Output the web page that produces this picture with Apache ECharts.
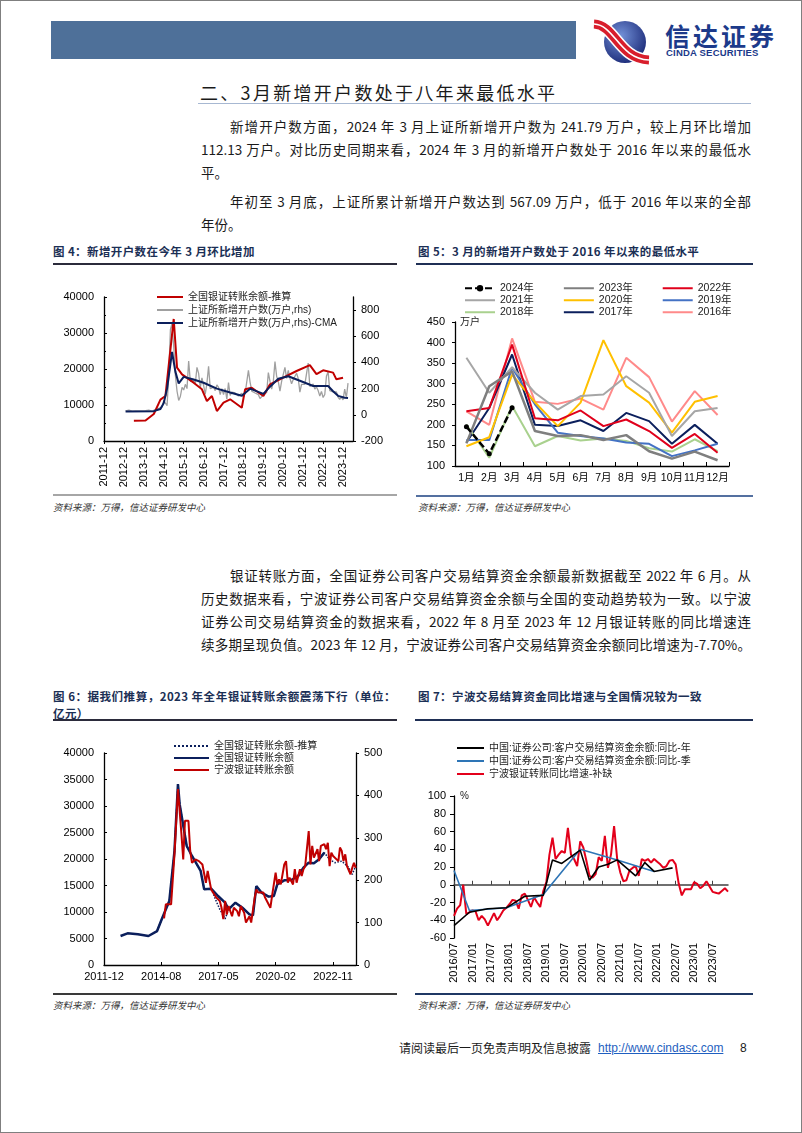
<!DOCTYPE html>
<html lang="zh-CN">
<head>
<meta charset="utf-8">
<title>信达证券 图4-图7</title>
<script src="https://cdn.jsdelivr.net/npm/echarts@6.0.0/dist/echarts.min.js"></script>
<style>
  html, body { margin: 0; padding: 0; background: #fff; }
  #page { position: relative; width: 802px; height: 1133px; box-sizing: border-box; border: 1px solid #7f7f7f;
          overflow: hidden; font-family: "Noto Sans CJK SC", sans-serif; color: #1a1a1a; }
  .a { position: absolute; white-space: nowrap; }
  .ln { position: absolute; left: 200px; width: 550px; height: 20px; line-height: 20px; font-size: 13.5px; }
  .ln.j { text-align: justify; text-align-last: justify; }
  .ln.ind { left: 229px; width: 521px; }
  .cap { position: absolute; font-size: 11.5px; font-weight: bold; color: #1b2f55; line-height: 16px; letter-spacing: .4px; white-space: nowrap; }
  .rule { position: absolute; height: 0; }
  .src { position: absolute; font-size: 9.5px; font-style: italic; color: #333; white-space: nowrap; }
  .chart { position: absolute; }
</style>
</head>
<body>
<div id="page">
  <!-- 页眉 -->
  <div class="a" style="left:50px;top:20px;width:525px;height:38px;background:#4e7099;"></div>
  <svg class="a" style="left:588px;top:16px" width="70" height="48" viewBox="0 0 70 48">
    <defs>
      <radialGradient id="lg" cx="40%" cy="35%" r="70%">
        <stop offset="0" stop-color="#7391d8"/><stop offset="1" stop-color="#1b2a78"/>
      </radialGradient>
    </defs>
    <circle cx="36" cy="25" r="21" fill="url(#lg)"/>
    <path d="M5 7 C 26 8, 30 42, 60 43" stroke="#fff" stroke-width="12" fill="none"/>
    <path d="M5 7 C 26 8, 30 42, 60 43" stroke="#d81e2c" stroke-width="9" fill="none"/>
    <path d="M5 7 C 26 8, 30 42, 60 43" stroke="#fff" stroke-width="1.6" fill="none"/>
  </svg>
  <div class="a" style="left:664px;top:19px;font-size:25px;font-weight:bold;color:#1c3a8a;letter-spacing:3px;line-height:30px;">信达证券</div>
  <div class="a" style="left:665px;top:46px;font-size:9.5px;font-weight:bold;color:#1c3a8a;font-family:'Liberation Sans',sans-serif;letter-spacing:.2px;line-height:11px;">CINDA SECURITIES</div>

  <!-- 标题与正文 -->
  <div class="a" style="left:199px;top:79px;font-size:18px;letter-spacing:2.3px;line-height:24px;">二、3月新增开户数处于八年来最低水平</div>
  <div class="rule" style="left:197px;top:102px;width:553px;border-top:1.5px solid #a7b8d2;"></div>

  <div class="ln j ind" style="top:115px;">新增开户数方面，2024 年 3 月上证所新增开户数为 241.79 万户，较上月环比增加</div>
  <div class="ln j" style="top:138px;">112.13 万户。对比历史同期来看，2024 年 3 月的新增开户数处于 2016 年以来的最低水</div>
  <div class="ln" style="top:161px;">平。</div>
  <div class="ln j ind" style="top:190px;">年初至 3 月底，上证所累计新增开户数达到 567.09 万户，低于 2016 年以来的全部</div>
  <div class="ln" style="top:213px;">年份。</div>

  <!-- 图4 / 图5 -->
  <div class="cap" style="left:52px;top:242px;">图 4：新增开户数在今年 3 月环比增加</div>
  <div class="rule" style="left:52px;top:262px;width:344px;border-top:2px solid #2b2b3b;"></div>
  <div class="cap" style="left:417px;top:242px;">图 5：3 月的新增开户数处于 2016 年以来的最低水平</div>
  <div class="rule" style="left:415px;top:262px;width:337px;border-top:2px solid #1f2f55;"></div>
  <div id="c4" class="chart" style="left:50px;top:270px;width:350px;height:222px;"></div>
  <div id="c5" class="chart" style="left:412px;top:270px;width:345px;height:222px;"></div>
  <div class="rule" style="left:52px;top:493px;width:344px;border-top:2px solid #a6a6a6;"></div>
  <div class="rule" style="left:415px;top:494px;width:337px;border-top:2px solid #5470a0;"></div>
  <div class="src" style="left:52px;top:499px;">资料来源：万得，信达证券研发中心</div>
  <div class="src" style="left:417px;top:499px;">资料来源：万得，信达证券研发中心</div>

  <!-- 中段正文 -->
  <div class="ln j ind" style="top:564px;">银证转账方面，全国证券公司客户交易结算资金余额最新数据截至 2022 年 6 月。从</div>
  <div class="ln j" style="top:587px;">历史数据来看，宁波证券公司客户交易结算资金余额与全国的变动趋势较为一致。以宁波</div>
  <div class="ln j" style="top:610px;">证券公司交易结算资金的数据来看，2022 年 8 月至 2023 年 12 月银证转账的同比增速连</div>
  <div class="ln j" style="top:633px;">续多期呈现负值。2023 年 12 月，宁波证券公司客户交易结算资金余额同比增速为-7.70%。</div>

  <!-- 图6 / 图7 -->
  <div class="cap" style="left:52px;top:687px;width:343px;text-align:justify;text-align-last:justify;">图 6：据我们推算，2023 年全年银证转账余额震荡下行（单位：</div>
  <div class="cap" style="left:52px;top:704px;">亿元）</div>
  <div class="rule" style="left:52px;top:718px;width:344px;border-top:2px solid #2b2b3b;"></div>
  <div class="cap" style="left:417px;top:687px;">图 7：宁波交易结算资金同比增速与全国情况较为一致</div>
  <div class="rule" style="left:414px;top:718px;width:338px;border-top:2px solid #1f2f55;"></div>
  <div id="c6" class="chart" style="left:50px;top:725px;width:350px;height:265px;"></div>
  <div id="c7" class="chart" style="left:410px;top:725px;width:345px;height:265px;"></div>
  <div class="rule" style="left:52px;top:992px;width:344px;border-top:2px solid #3a3a3a;"></div>
  <div class="rule" style="left:414px;top:992px;width:338px;border-top:2px solid #1f3864;"></div>
  <div class="src" style="left:52px;top:997px;">资料来源：万得，信达证券研发中心</div>
  <div class="src" style="left:417px;top:997px;">资料来源：万得，信达证券研发中心</div>

  <!-- 页脚 -->
  <div class="a" style="left:398px;top:1039px;font-size:12px;line-height:16px;">请阅读最后一页免责声明及信息披露</div>
  <div class="a" style="left:597px;top:1039px;font-size:12px;line-height:16px;font-family:'Liberation Sans',sans-serif;color:#1f5fc0;text-decoration:underline;">http://www.cindasc.com</div>
  <div class="a" style="left:739px;top:1039px;font-size:12px;line-height:16px;font-family:'Liberation Sans',sans-serif;">8</div>
</div>

<script>
// ---------- 图5：上证所各年月度新增开户数（万户） ----------
const months5 = ['1月','2月','3月','4月','5月','6月','7月','8月','9月','10月','11月','12月'];
const y2016 = [233, 200, 410, 256, 251, 264, 237, 363, 316, 208, 282, 224];
const y2017 = [157, 241, 371, 200, 197, 211, 185, 229, 209, 154, 200, 154];
const y2018 = [201, 120, 246, 148, 173, 162, 167, 161, 143, 135, 165, 136];
const y2019 = [163, 163, 339, 250, 181, 173, 167, 157, 154, 124, 138, 154];
const y2020 = [148, 170, 322, 255, 197, 254, 406, 294, 254, 181, 256, 270];
const y2021 = [363, 278, 340, 278, 237, 270, 274, 318, 278, 173, 233, 241];
const y2022 = [233, 241, 395, 216, 211, 235, 197, 213, 185, 144, 178, 132];
const y2023 = [155, 294, 330, 185, 173, 175, 163, 175, 136, 118, 135, 114];
const y2024 = [195.64, 129.66, 241.79];

// ---------- 图4 ----------
// 上证所新增开户数 2013-01 ~ 2015-12（之后沿用图5各年数据）
const gray4Start = '2013-01';
const gray4Early = [30, 25, 35, 30, 28, 26, 30, 28, 30, 32, 30, 28,
                    32, 28, 35, 30, 28, 32, 40, 45, 50, 48, 60, 110,
                    90, 70, 300, 650, 700, 520, 300, 180, 110, 140, 210, 190];
const cma4Dates = ['2013-01','2014-06','2014-10','2014-12','2015-02','2015-05','2015-07','2015-09','2015-12','2016-06',
                   '2016-12','2017-08','2018-04','2018-11','2019-04','2019-07','2019-12','2020-04','2020-09','2021-03',
                   '2021-10','2022-06','2023-03','2023-06','2023-09','2024-01','2024-03'];
const cma4Values = [25, 28, 45, 90, 200, 480, 330, 240, 290, 270,
                    245, 200, 170, 145, 200, 185, 160, 215, 275, 295,
                    260, 220, 220, 180, 145, 130, 128];
const bank4Dates = ['2013-06','2014-01','2014-06','2014-10','2015-01','2015-06','2015-08','2015-11','2016-06','2016-11',
                    '2017-02','2017-05','2017-08','2017-12','2018-04','2018-11','2019-01','2019-05','2019-12','2020-04',
                    '2020-12','2021-08','2022-04','2022-08','2022-12','2023-06','2023-08','2023-12'];
const bank4Values = [5600, 5700, 7500, 11500, 12500, 33900, 20400, 18500, 16200, 14350,
                     11100, 12500, 8330, 10640, 11580, 9250, 14350, 14800, 12500, 15750,
                     17580, 19440, 21100, 18600, 19640, 19000, 17130, 17580];

// ---------- 图6 ----------
const nation6Dates = ['2012-09','2013-01','2013-07','2014-01','2014-06','2014-09','2015-01','2015-04','2015-06','2015-07',
                      '2015-11','2016-02','2016-07','2016-09','2017-01','2017-05','2017-09','2017-11','2018-03','2018-07',
                      '2018-11','2019-01','2019-03','2019-06','2019-10','2020-01','2020-03','2020-07','2020-11','2021-03',
                      '2021-06','2021-09','2021-12','2022-03','2022-06'];
const nation6Values = [5470, 5980, 5790, 5470, 6400, 8930, 12080, 21500, 34150, 30300,
                       22450, 20570, 17740, 14280, 14400, 13020, 11760, 10500, 11760, 10800,
                       9560, 9370, 14900, 13650, 12900, 13020, 15220, 15980, 16040, 16800,
                       18370, 19310, 19190, 19940, 21200];
const est6Dates = ['2014-06','2014-09','2015-01','2015-04','2015-06','2015-07','2015-11','2016-02','2016-07','2016-09',
                   '2017-01','2017-04','2017-06','2017-09','2017-11','2018-03','2018-07','2018-11','2019-01','2019-03',
                   '2019-06','2019-10','2020-01','2020-03','2020-07','2020-11','2021-03','2021-06','2021-09','2021-12',
                   '2022-03','2022-06','2022-09','2022-12','2023-04','2023-08','2023-10','2023-12'];
const est6Values = [6400, 8930, 12080, 21500, 34150, 30300, 22450, 20570, 17740, 14280,
                    14400, 12000, 10500, 8700, 10500, 11760, 10800, 9560, 9370, 14900,
                    13650, 12900, 13020, 15220, 15980, 16040, 16800, 18370, 19310, 19190,
                    19940, 21200, 19900, 19300, 19600, 18400, 17100, 18700];
const nb6Dates = ['2014-10','2014-11','2015-02','2015-04','2015-06','2015-08','2015-09','2015-10','2015-12','2016-01',
                  '2016-02','2016-04','2016-05','2016-06','2016-08','2016-10','2016-11','2017-01','2017-02','2017-04',
                  '2017-06','2017-07','2017-08','2017-09','2017-10','2017-11','2018-01','2018-02','2018-04','2018-05',
                  '2018-06','2018-08','2018-09','2018-11','2018-12','2019-02','2019-03','2019-04','2019-05','2019-07',
                  '2019-08','2019-09','2019-11','2019-12','2020-02','2020-03','2020-04','2020-05','2020-07','2020-08',
                  '2020-09','2020-10','2020-12','2021-01','2021-02','2021-04','2021-05','2021-06','2021-07','2021-09',
                  '2021-10','2021-11','2021-12','2022-02','2022-03','2022-04','2022-06','2022-07','2022-08','2022-09',
                  '2022-10','2022-11','2022-12','2023-02','2023-03','2023-04','2023-05','2023-06','2023-07','2023-09',
                  '2023-10','2023-11','2023-12'];
const nb6Values = [110, 143, 143, 261, 415, 308, 249, 340, 340, 269,
                   241, 249, 253, 245, 237, 194, 222, 178, 175, 159,
                   151, 135, 108, 151, 119, 139, 115, 135, 127, 115,
                   139, 123, 100, 115, 100, 159, 178, 171, 167, 171,
                   159, 155, 135, 163, 218, 190, 202, 190, 237, 245,
                   194, 206, 190, 226, 194, 226, 210, 226, 233, 316,
                   237, 281, 253, 273, 245, 281, 285, 273, 288, 233,
                   265, 257, 261, 245, 277, 269, 245, 261, 233, 214,
                   229, 241, 229];

// ---------- 图7 ----------
const cat7Start = [2016, 7], cat7End = [2023, 12];
const nb7Values = [-35, -27, -23, 0, -33, -31,
                   -29, -30, -40, -35, -39, -46, -39, -32, -40, -35, -29, -26,
                   -22, -17, -18, -27, -12, -10, -17, -25, -14, -20, -25, -7,
                   3, 34, 53, 29, 34, 38, 36, 64, 34, 29, 21, 49,
                   42, 27, 10, 8, 12, 31, 27, 55, 19, 34, 66, 29,
                   14, 4, 5, 16, 19, 21, 10, 29, 27, 29, 25, 29,
                   26, 23, 19, 21, 27, 28, 23, 1, -12, -5, -5, -5,
                   3, 1, -4, -1, 4, -2, -8, -9, -10, -7, -4, -7.7];
const yr7Dates = ['2016/07','2016/12','2017/06','2017/12','2018/06','2018/12','2019/03','2019/06','2019/12','2020/03',
                  '2020/06','2020/09','2020/12','2021/06','2021/09','2021/12','2022/06'];
const yr7Values = [-46, -31, -27, -26, -13, -12, 28, 24, 39, 5,
                   20, 23, 28, 10, 25, 15, 19];
const q7Dates = ['2016/07','2016/12','2017/12','2018/12','2019/12','2020/12','2021/12'];
const q7Values = [16, -29, -26, -11, 40, 28, 15];

// ---------- 工具 ----------
const NUM = '"Liberation Sans", "Noto Sans CJK SC", sans-serif';
const pad = n => String(n).padStart(2, '0');
const mIdx4 = s => { const [y, m] = s.split('-').map(Number); return (y - 2011) * 12 + (m - 12); };
const mLabel4 = v => { const t = 11 + v; return (2011 + Math.floor(t / 12)) + '-' + pad(t % 12 + 1); };
const BASE6 = Date.UTC(2011, 11, 1);
const day6 = s => { const [y, m] = s.split('-').map(Number); return (Date.UTC(y, m - 1, 15) - BASE6) / 864e5; };
const dLabel6 = v => { const d = new Date(BASE6 + v * 864e5); return d.getUTCFullYear() + '-' + pad(d.getUTCMonth() + 1); };
const zip = (xs, ys, f) => xs.map((x, i) => [f ? f(x) : x, ys[i]]);
const plain = v => String(v);

const cat7 = [];
for (let y = cat7Start[0], m = cat7Start[1]; y < cat7End[0] || (y === cat7End[0] && m <= cat7End[1]); m++) {
  if (m > 12) { m = 1; y++; }
  cat7.push(y + '/' + pad(m));
}

const axLine = { show: true, onZero: false, lineStyle: { color: '#000', width: 1.3 } };
const axTick = (inside, len) => ({ show: true, inside, length: len, lineStyle: { color: '#000', width: 1 } });
const axLab = extra => Object.assign({ color: '#000', fontSize: 11, fontFamily: NUM, formatter: plain }, extra || {});
const legText = size => ({ fontSize: size, color: '#222', fontFamily: NUM });
const noSplit = { show: false };
// 图例只画线段，不画圆点
const legItem = { opacity: 0 };

// ---------- 图4 ----------
const gray4 = gray4Early.concat(y2016, y2017, y2018, y2019, y2020, y2021, y2022, y2023, y2024);
const g0 = mIdx4(gray4Start);
const c4 = echarts.init(document.getElementById('c4'));
c4.setOption({
  animation: false,
  grid: { left: 53, right: 48, top: 26, bottom: 52, outerBoundsMode: 'none' },
  legend: {
    orient: 'vertical', left: 100, top: 16, itemGap: 3, itemWidth: 26, itemHeight: 10,
    itemStyle: legItem, textStyle: legText(10),
    data: ['全国银证转账余额-推算', '上证所新增开户数(万户,rhs)', '上证所新增开户数(万户,rhs)-CMA']
  },
  xAxis: {
    type: 'value', min: 0, max: 150, interval: 12,
    axisLine: axLine, axisTick: axTick(false, 3), splitLine: noSplit,
    axisLabel: axLab({ rotate: 90, margin: 6, formatter: mLabel4, showMaxLabel: false })
  },
  yAxis: [
    { type: 'value', min: 0, max: 40000, interval: 10000, axisLine: axLine, axisTick: axTick(true, 3),
      minorTick: { show: true, splitNumber: 2, length: 2, lineStyle: { color: '#000' } },
      splitLine: noSplit, axisLabel: axLab({ margin: 10 }) },
    { type: 'value', min: -200, max: 900, interval: 200, position: 'right', axisLine: axLine, axisTick: axTick(false, 3),
      splitLine: noSplit, axisLabel: axLab({ margin: 8, showMaxLabel: false }) }
  ],
  series: [
    { name: '上证所新增开户数(万户,rhs)', type: 'line', yAxisIndex: 1, symbol: 'none',
      data: gray4.map((v, i) => [g0 + i, v]),
      lineStyle: { color: '#a0a0a0', width: 1.3 }, itemStyle: { color: '#a0a0a0' } },
    { name: '全国银证转账余额-推算', type: 'line', yAxisIndex: 0, symbol: 'none',
      data: zip(bank4Dates, bank4Values, mIdx4),
      lineStyle: { color: '#c00000', width: 2 }, itemStyle: { color: '#c00000' } },
    { name: '上证所新增开户数(万户,rhs)-CMA', type: 'line', yAxisIndex: 1, symbol: 'none',
      data: zip(cma4Dates, cma4Values, mIdx4),
      lineStyle: { color: '#0b1f5c', width: 2 }, itemStyle: { color: '#0b1f5c' } }
  ]
});

// ---------- 图5 ----------
const years5 = [
  { name: '2016年', data: y2016, color: '#ff8a8a' },
  { name: '2017年', data: y2017, color: '#0b1f5c' },
  { name: '2018年', data: y2018, color: '#a9d18e' },
  { name: '2019年', data: y2019, color: '#4472c4' },
  { name: '2020年', data: y2020, color: '#ffc000' },
  { name: '2021年', data: y2021, color: '#a6a6a6' },
  { name: '2022年', data: y2022, color: '#e0001b' },
  { name: '2023年', data: y2023, color: '#7f7f7f' },
  { name: '2024年', data: y2024, color: '#000000' }
];
const legRow5 = (names, top) => ({
  data: names.map(n => n === '2024年' ? { name: n, itemStyle: { opacity: 1 } } : n),
  left: 46, top, itemGap: 29, itemWidth: 30, itemHeight: 8, itemStyle: legItem, textStyle: legText(10.5)
});
const c5 = echarts.init(document.getElementById('c5'));
c5.setOption({
  animation: false,
  grid: { left: 42, right: 29, top: 51, bottom: 27, outerBoundsMode: 'none' },
  legend: [
    legRow5(['2024年', '2023年', '2022年'], 7),
    legRow5(['2021年', '2020年', '2019年'], 19),
    legRow5(['2018年', '2017年', '2016年'], 31)
  ],
  xAxis: {
    type: 'category', data: months5, boundaryGap: true,
    axisLine: axLine, axisTick: axTick(true, 4), splitLine: noSplit,
    axisLabel: axLab({ interval: 0, margin: 7, fontSize: 10.5 })
  },
  yAxis: {
    type: 'value', min: 100, max: 450, interval: 50, name: '万户', nameLocation: 'end', nameGap: 0,
    nameTextStyle: { align: 'left', verticalAlign: 'middle', padding: [0, 0, 0, 5], fontSize: 10, color: '#222', fontFamily: NUM },
    axisLine: axLine, axisTick: axTick(false, 3), splitLine: noSplit, axisLabel: axLab({ margin: 10 })
  },
  series: years5.map(y => {
    const is24 = y.name === '2024年';
    return {
      name: y.name, type: 'line', data: y.data,
      symbol: is24 ? 'circle' : 'none', symbolSize: 5, showSymbol: is24,
      lineStyle: { color: y.color, width: is24 ? 2.5 : (y.name === '2023年' ? 2.5 : 2), type: is24 ? [7, 3] : 'solid' },
      itemStyle: { color: y.color }
    };
  })
});

// ---------- 图6 ----------
const c6 = echarts.init(document.getElementById('c6'));
c6.setOption({
  animation: false,
  grid: { left: 53, right: 45, top: 27, bottom: 26, outerBoundsMode: 'none' },
  legend: {
    orient: 'vertical', left: 117, top: 10, itemGap: 2, itemWidth: 35, itemHeight: 10,
    itemStyle: legItem, textStyle: legText(10),
    data: ['全国银证转账余额-推算', '全国银证转账余额', '宁波银证转账余额']
  },
  xAxis: {
    type: 'value', min: 0, max: 4402, interval: 1000,
    axisLine: axLine, axisTick: axTick(true, 3), splitLine: noSplit,
    axisLabel: axLab({ margin: 6, formatter: dLabel6, showMaxLabel: false })
  },
  yAxis: [
    { type: 'value', min: 0, max: 40000, interval: 5000, axisLine: axLine, axisTick: axTick(true, 3),
      splitLine: noSplit, axisLabel: axLab({ margin: 10 }) },
    { type: 'value', min: 0, max: 500, interval: 100, position: 'right', axisLine: axLine, axisTick: axTick(false, 3),
      splitLine: noSplit, axisLabel: axLab({ margin: 8 }) }
  ],
  series: [
    { name: '全国银证转账余额-推算', type: 'line', yAxisIndex: 0, symbol: 'none',
      data: zip(est6Dates, est6Values, day6),
      lineStyle: { color: '#0b1f5c', width: 1.5, type: 'dotted' }, itemStyle: { color: '#0b1f5c' } },
    { name: '全国银证转账余额', type: 'line', yAxisIndex: 0, symbol: 'none',
      data: zip(nation6Dates, nation6Values, day6),
      lineStyle: { color: '#0b1f5c', width: 2.5 }, itemStyle: { color: '#0b1f5c' } },
    { name: '宁波银证转账余额', type: 'line', yAxisIndex: 1, symbol: 'none',
      data: zip(nb6Dates, nb6Values, day6),
      lineStyle: { color: '#c00000', width: 2 }, itemStyle: { color: '#c00000' } }
  ]
});

// ---------- 图7 ----------
const c7 = echarts.init(document.getElementById('c7'));
c7.setOption({
  animation: false,
  grid: { left: 43, right: 28, top: 70, bottom: 53, outerBoundsMode: 'none' },
  legend: {
    orient: 'vertical', left: 40, top: 12, itemGap: 3, itemWidth: 27, itemHeight: 10,
    itemStyle: legItem, textStyle: legText(10),
    data: ['中国:证券公司:客户交易结算资金余额:同比-年', '中国:证券公司:客户交易结算资金余额:同比-季', '宁波银证转账同比增速-补缺']
  },
  xAxis: [
    { type: 'category', data: cat7, boundaryGap: false, position: 'bottom',
      axisLine: { show: false, onZero: false }, axisTick: { show: false }, splitLine: noSplit,
      axisLabel: axLab({ interval: 5, rotate: 90, margin: 5 }) },
    { type: 'category', data: cat7, boundaryGap: false, position: 'bottom',
      axisLine: { show: true, onZero: true, lineStyle: { color: '#404040', width: 1.5 } },
      axisTick: { show: true, interval: 5, inside: true, length: 4, lineStyle: { color: '#404040' } },
      axisLabel: { show: false }, splitLine: noSplit }
  ],
  yAxis: {
    type: 'value', min: -60, max: 100, interval: 20, name: '%', nameLocation: 'end', nameGap: 0,
    nameTextStyle: { align: 'left', verticalAlign: 'middle', padding: [0, 0, 0, 6], fontSize: 10, color: '#222', fontFamily: NUM },
    axisLine: axLine, axisTick: axTick(false, 4), splitLine: noSplit, axisLabel: axLab({ margin: 8 })
  },
  series: [
    { name: '宁波银证转账同比增速-补缺', type: 'line', symbol: 'none', data: nb7Values,
      lineStyle: { color: '#e3001b', width: 2 }, itemStyle: { color: '#e3001b' } },
    { name: '中国:证券公司:客户交易结算资金余额:同比-季', type: 'line', symbol: 'none', data: zip(q7Dates, q7Values),
      lineStyle: { color: '#2e75b6', width: 1.6 }, itemStyle: { color: '#2e75b6' } },
    { name: '中国:证券公司:客户交易结算资金余额:同比-年', type: 'line', symbol: 'none', data: zip(yr7Dates, yr7Values),
      lineStyle: { color: '#000', width: 1.6 }, itemStyle: { color: '#000' } }
  ]
});
</script>
</body>
</html>
